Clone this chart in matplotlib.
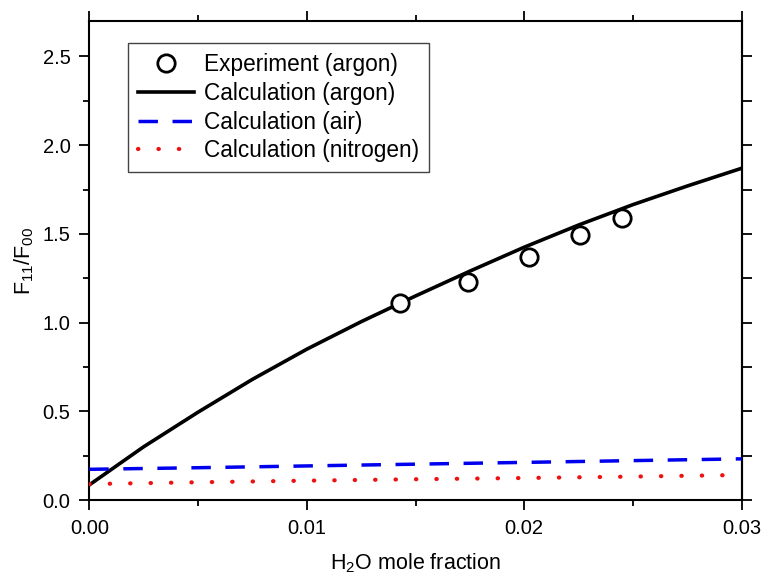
import numpy as np
import matplotlib
matplotlib.use("Agg")
import matplotlib.pyplot as plt
from matplotlib.ticker import MultipleLocator, FormatStrFormatter

plt.rcParams['font.family'] = ['Liberation Sans', 'DejaVu Sans']
plt.rcParams['mathtext.fontset'] = 'custom'
plt.rcParams['mathtext.rm'] = 'Liberation Sans'
plt.rcParams['mathtext.it'] = 'Liberation Sans:italic'
plt.rcParams['mathtext.bf'] = 'Liberation Sans:bold'
plt.rcParams['mathtext.default'] = 'regular'

# ---- data ----
exp_x = [0.01429, 0.01741, 0.02021, 0.02257, 0.02449]
exp_y = [1.113, 1.228, 1.369, 1.491, 1.589]

argon_x = [0.0, 0.0025, 0.005, 0.0075, 0.01, 0.0125, 0.015, 0.0175, 0.02, 0.0225, 0.025, 0.0275, 0.03]
argon_y = [0.085, 0.30, 0.495, 0.68, 0.85, 1.005, 1.15, 1.29, 1.425, 1.55, 1.665, 1.77, 1.87]

air_x = [0.0, 0.005, 0.01, 0.015, 0.02, 0.025, 0.03]
air_y = [0.173, 0.182, 0.192, 0.202, 0.212, 0.222, 0.232]

n2_x = [0.0, 0.005, 0.01, 0.015, 0.02, 0.025, 0.03]
n2_y = [0.090, 0.100, 0.109, 0.117, 0.124, 0.132, 0.141]

labels = ['Experiment (argon)', 'Calculation (argon)', 'Calculation (air)', 'Calculation (nitrogen)']

fig = plt.figure(figsize=(7.61, 5.75), dpi=100)
ax = fig.add_axes([89.3/761, 1-500/575, (741.7-89.3)/761, (500-21)/575])

ax.plot(argon_x, argon_y, color='black', lw=2.6, label=labels[1], zorder=3,
        solid_joinstyle='round')
ax.plot(air_x, air_y, color='#0000ee', lw=2.5, linestyle=(0, (5.6, 4.2)), label=labels[2], zorder=3)
ax.plot(n2_x, n2_y, color='#ee1111', lw=3.0, linestyle=(0, (0.1, 4.8)),
        dash_capstyle='round', label=labels[3], zorder=3)
ax.plot(exp_x, exp_y, linestyle='none', marker='o', ms=12.5, mfc='white', mec='black',
        mew=2.0, label=labels[0], zorder=4)

ax.set_xlim(0, 0.03)
ax.set_ylim(0, 2.7)
ax.xaxis.set_major_locator(MultipleLocator(0.01))
ax.xaxis.set_minor_locator(MultipleLocator(0.005))
ax.yaxis.set_major_locator(MultipleLocator(0.5))
ax.yaxis.set_minor_locator(MultipleLocator(0.25))
ax.xaxis.set_major_formatter(FormatStrFormatter('%.2f'))
ax.yaxis.set_major_formatter(FormatStrFormatter('%.1f'))

for s in ax.spines.values():
    s.set_linewidth(1.5)
ax.tick_params(which='both', direction='out', top=True, right=False, width=1.3, labelsize=14.5)
ax.tick_params(which='major', length=7.5, pad=6)
ax.tick_params(which='minor', length=4)

sec = ax.secondary_yaxis('right')
sec.set_yticks(np.arange(0, 2.71, 0.25))
sec.tick_params(direction='out', length=7.5, width=1.3, labelright=False)
sec.spines['right'].set_linewidth(1.5)

ax.set_xlabel('H$_2$O mole fraction', fontsize=15.5, labelpad=10)
ax.set_ylabel('F$_{11}$/F$_{00}$', fontsize=15.5, labelpad=5)

h, l = ax.get_legend_handles_labels()
order = [3, 0, 1, 2]
leg = ax.legend([h[i] for i in order], [l[i] for i in order], loc='upper left',
                bbox_to_anchor=(38.7/652.4, 1-22/479), borderaxespad=0,
                fontsize=16.3, frameon=True, fancybox=False, edgecolor='#444444',
                framealpha=1, handlelength=2.45, handletextpad=0.45, borderpad=0.45,
                labelspacing=0.25, numpoints=1)
leg.get_frame().set_linewidth(1.0)

fig.savefig('out.png', dpi=100)
